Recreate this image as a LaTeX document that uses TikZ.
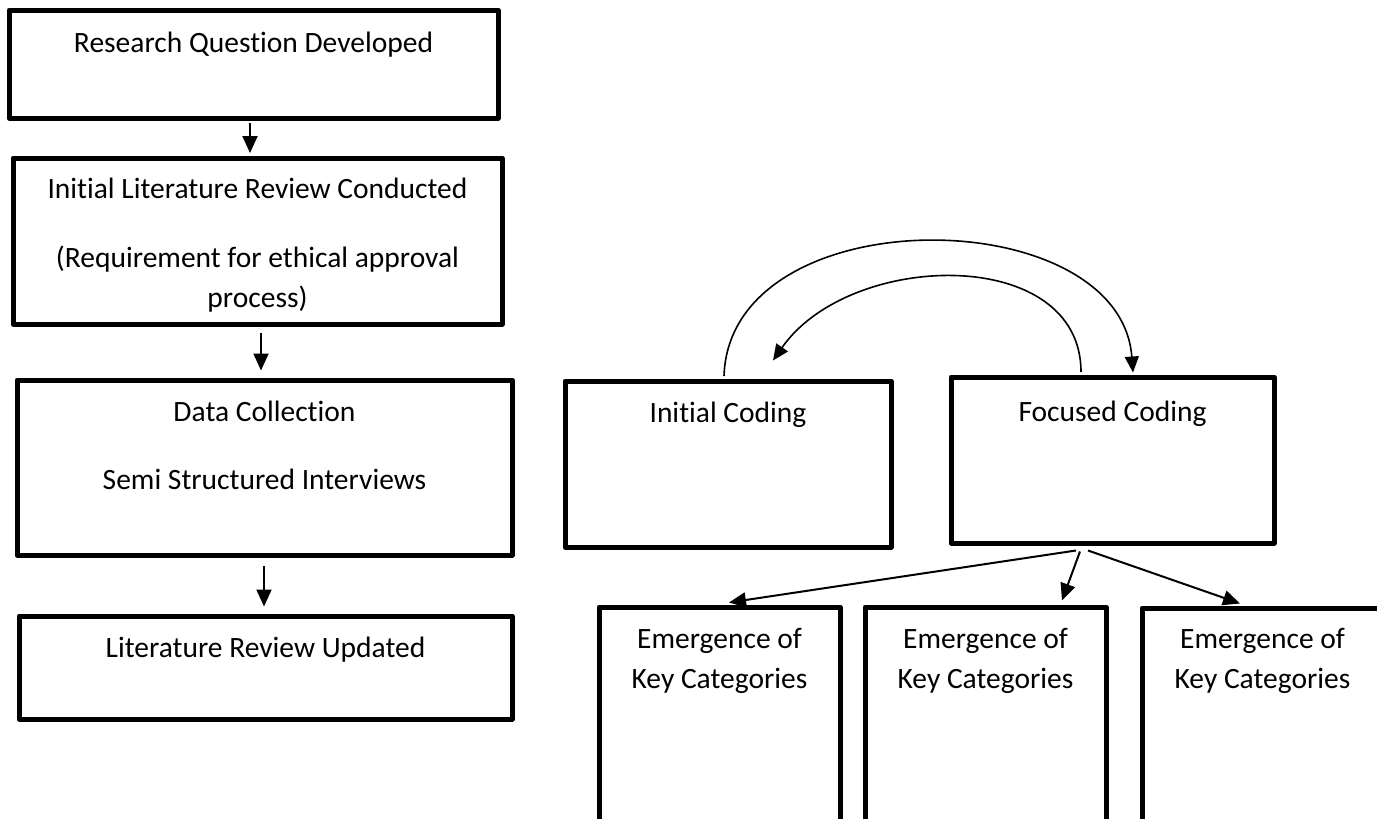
\documentclass[tikz,border=0pt]{standalone}
\usepackage{fontspec}
\setmainfont{Carlito}[Ligatures=NoCommon]
\usetikzlibrary{arrows.meta}
\begin{document}
\begin{tikzpicture}[x=1pt,y=-1pt,
  box/.style={draw, line width=5pt, line join=round, inner sep=0pt},
  txt/.style={font=\fontsize{29.5}{35}\selectfont, anchor=base, inner sep=0pt},
  arr/.style={line width=2pt, -{Triangle[length=17pt,width=15pt]}},
  carr/.style={line width=1.6pt, -{Triangle[length=16pt,width=14pt]}}]
\path[use as bounding box, clip] (0,0) rectangle (1377,819);
% boxes
\node[box, minimum width=489pt, minimum height=108pt] (b1) at (253.5,64) {};
\node[box, minimum width=489pt, minimum height=166pt] (b2) at (257.5,241) {};
\node[box, minimum width=495pt, minimum height=175pt] (b3) at (264.5,467.5) {};
\node[box, minimum width=493pt, minimum height=103pt] (b4) at (265.5,667.5) {};
\node[box, minimum width=326pt, minimum height=166pt] (ic) at (728,464) {};
\node[box, minimum width=323pt, minimum height=166pt] (fc) at (1112.5,460) {};
\node[box, minimum width=241pt, minimum height=228pt] (e1) at (719.5,721) {};
\node[box, minimum width=241pt, minimum height=228pt] (e2) at (985.5,721) {};
\node[box, minimum width=241pt, minimum height=228pt] (e3) at (1262.5,722) {};
% texts
\node[txt] (t1) at (253.5,52) {Research Question Developed};
\node[txt] (t2a) at (257.5,198) {Initial Literature Review Conducted};
\node[txt] (t2b) at (257.5,267) {(Requirement for ethical approval};
\node[txt] (t2c) at (257.5,307) {process)};
\node[txt] (t3a) at (264.5,421) {Data Collection};
\node[txt] (t3b) at (264.5,489) {Semi Structured Interviews};
\node[txt] (t4) at (265.5,657) {Literature Review Updated};
\node[txt] (t5) at (728,422) {Initial Coding};
\node[txt] (t6) at (1112.5,421) {Focused Coding};
\node[txt] (t7a) at (719.5,648) {Emergence of};
\node[txt] (t7b) at (719.5,688) {Key Categories};
\node[txt] (t8a) at (985.5,648) {Emergence of};
\node[txt] (t8b) at (985.5,688) {Key Categories};
\node[txt] (t9a) at (1262.5,648) {Emergence of};
\node[txt] (t9b) at (1262.5,688) {Key Categories};
% vertical arrows
\draw[arr] ([xshift=-3.5pt,yshift=-2.5pt]b1.south) -- ([xshift=-7.5pt,yshift=2.5pt]b2.north);
\draw[arr] ([xshift=3.5pt,yshift=-6pt]b2.south) -- ([xshift=-3.5pt,yshift=7pt]b3.north);
\draw[arr] ([xshift=-0.5pt,yshift=-8pt]b3.south) -- ([xshift=-1.5pt,yshift=7pt]b4.north);
% coding arrows
\draw[arr] ([xshift=-36.5pt,yshift=-5pt]fc.south) -- ([xshift=9.5pt,yshift=2pt]e1.north);
\draw[arr] ([xshift=-32.5pt,yshift=-6pt]fc.south) -- ([xshift=76.5pt,yshift=4pt]e2.north);
\draw[arr] ([xshift=-24.5pt,yshift=-5pt]fc.south) -- ([xshift=-22.5pt,yshift=2pt]e3.north);
% curved arrows
\draw[carr] ([xshift=-4pt,yshift=2.5pt]ic.north) .. controls (730,196) and (1120,200) .. ([xshift=20.5pt,yshift=2pt]fc.north);
\draw[carr] ([xshift=-31.5pt,yshift=2.5pt]fc.north) .. controls (1081,245) and (850,250) .. ([xshift=45pt,yshift=18pt]ic.north);
\end{tikzpicture}
\end{document}
